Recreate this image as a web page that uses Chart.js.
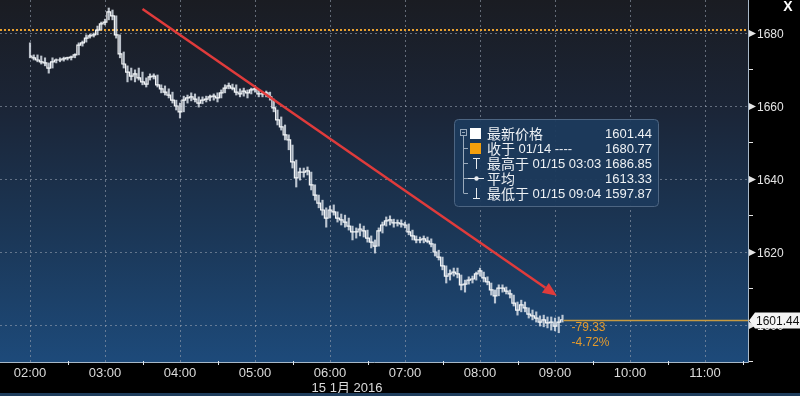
<!DOCTYPE html>
<html>
<head>
<meta charset="utf-8">
<script src="https://cdn.jsdelivr.net/npm/chart.js@4.4.0/dist/chart.umd.min.js"></script>
<style>
  html, body { margin: 0; padding: 0; background: #000; }
  canvas { display: block; }
</style>
</head>
<body>
<canvas id="myChart" width="800" height="396"></canvas>
<script>
// 3-minute bars from 02:00 (minutes since midnight)
const startMinute = 120;
const barStep = 3;

const highs = [
  1677.3, 1674.0, 1674.0, 1673.7, 1673.2, 1671.8, 1673.2, 1672.9, 1673.2, 1673.4,
  1673.4, 1673.7, 1674.3, 1677.3, 1677.8, 1679.5, 1679.7, 1680.0, 1681.9, 1683.0,
  1683.8, 1686.85, 1686.3, 1684.7, 1679.5, 1674.8, 1671.0, 1670.4, 1669.9, 1670.4,
  1669.3, 1667.7, 1668.8, 1668.8, 1668.5, 1665.8, 1665.5, 1664.7, 1663.8, 1661.6,
  1660.8, 1662.7, 1663.0, 1663.6, 1663.3, 1662.5, 1662.5, 1662.7, 1663.0, 1663.3,
  1663.6, 1664.4, 1665.8, 1666.3, 1666.0, 1665.8, 1664.7, 1664.9, 1664.4, 1664.9,
  1665.5, 1664.4, 1663.8, 1664.1, 1663.8, 1661.9, 1658.9, 1657.0, 1654.8, 1652.1,
  1649.3, 1645.2, 1643.0, 1643.0, 1643.3, 1641.9, 1638.4, 1635.6, 1634.2, 1632.1,
  1632.6, 1632.9, 1631.0, 1630.4, 1630.1, 1629.3, 1627.1, 1626.6, 1627.7, 1627.1,
  1626.0, 1624.4, 1623.3, 1626.6, 1628.2, 1629.6, 1629.9, 1629.0, 1628.8, 1628.8,
  1628.2, 1627.7, 1626.0, 1624.4, 1624.1, 1624.4, 1624.1, 1623.6, 1622.2, 1620.5,
  1618.6, 1616.2, 1615.1, 1615.6, 1615.6, 1613.7, 1612.3, 1613.2, 1613.4, 1614.5,
  1615.6, 1614.5, 1613.2, 1611.5, 1609.6, 1611.0, 1611.0, 1610.4, 1609.6, 1608.2,
  1606.3, 1606.8, 1606.3, 1604.7, 1604.1, 1603.6, 1602.5, 1602.7, 1602.2, 1602.2,
  1601.9, 1602.2, 1602.7
];
const lows = [
  1673.2, 1672.6, 1672.1, 1671.5, 1671.0, 1669.0, 1670.4, 1671.8, 1672.1, 1672.3,
  1672.6, 1672.6, 1673.2, 1674.0, 1676.4, 1677.5, 1678.6, 1678.9, 1679.5, 1680.8,
  1682.2, 1683.6, 1683.6, 1678.6, 1673.2, 1670.4, 1666.6, 1667.1, 1666.6, 1667.1,
  1665.8, 1665.2, 1667.1, 1667.4, 1665.2, 1663.6, 1663.0, 1662.2, 1660.8, 1658.9,
  1656.7, 1658.4, 1660.8, 1661.4, 1661.1, 1659.7, 1660.6, 1661.1, 1661.4, 1661.6,
  1661.1, 1662.2, 1663.6, 1664.7, 1664.4, 1663.0, 1662.5, 1662.7, 1662.2, 1663.3,
  1663.8, 1662.5, 1662.5, 1662.5, 1661.6, 1658.4, 1654.8, 1653.4, 1650.7, 1648.0,
  1643.0, 1637.8, 1639.7, 1640.5, 1641.1, 1637.0, 1634.2, 1632.1, 1630.1, 1626.8,
  1629.3, 1630.1, 1628.2, 1627.4, 1626.8, 1626.0, 1623.3, 1623.8, 1624.4, 1624.1,
  1622.7, 1621.1, 1619.7, 1621.6, 1625.2, 1627.1, 1627.4, 1626.8, 1627.1, 1626.8,
  1626.6, 1624.7, 1623.3, 1622.5, 1622.5, 1622.5, 1622.5, 1621.4, 1618.9, 1617.8,
  1615.1, 1611.5, 1612.3, 1613.4, 1612.9, 1609.6, 1609.0, 1611.2, 1611.5, 1612.3,
  1613.4, 1611.8, 1611.0, 1608.2, 1606.0, 1608.0, 1609.0, 1608.5, 1607.4, 1605.2,
  1602.7, 1603.6, 1603.6, 1601.9, 1601.4, 1600.8, 1599.7, 1599.5, 1599.2, 1598.6,
  1598.4, 1597.87, 1600.8
];
const closes = [
  1673.7, 1673.2, 1672.6, 1672.1, 1671.8, 1670.4, 1672.1, 1672.6, 1672.6, 1672.9,
  1673.2, 1673.4, 1674.0, 1676.7, 1677.3, 1678.6, 1679.2, 1679.5, 1680.8, 1682.5,
  1683.0, 1685.8, 1684.7, 1679.5, 1674.3, 1671.5, 1669.3, 1668.2, 1668.8, 1667.7,
  1666.6, 1666.0, 1668.0, 1668.2, 1665.8, 1664.7, 1663.8, 1663.0, 1661.6, 1660.0,
  1658.4, 1661.6, 1662.2, 1662.5, 1661.9, 1660.8, 1661.6, 1661.9, 1662.5, 1662.7,
  1662.2, 1663.6, 1664.9, 1665.5, 1664.9, 1663.8, 1663.3, 1664.1, 1663.6, 1664.4,
  1664.7, 1663.3, 1663.3, 1663.6, 1662.5, 1659.5, 1656.2, 1654.3, 1652.1, 1650.7,
  1644.7, 1640.3, 1641.9, 1641.9, 1642.2, 1638.4, 1635.6, 1633.4, 1631.5, 1629.3,
  1631.5, 1631.0, 1629.3, 1628.8, 1628.2, 1627.1, 1625.5, 1625.5, 1626.3, 1625.8,
  1623.8, 1622.7, 1621.6, 1625.8, 1627.4, 1628.5, 1628.8, 1628.0, 1628.0, 1627.7,
  1627.4, 1625.5, 1624.4, 1623.3, 1623.3, 1623.6, 1623.0, 1622.2, 1620.0, 1618.6,
  1616.2, 1613.4, 1614.0, 1614.5, 1614.0, 1611.0, 1611.2, 1612.3, 1612.6, 1614.0,
  1614.8, 1612.9, 1611.8, 1609.6, 1608.0, 1610.1, 1610.1, 1609.3, 1608.5, 1606.0,
  1604.1, 1605.5, 1604.7, 1603.0, 1602.5, 1601.9, 1600.8, 1601.4, 1600.6, 1600.8,
  1599.7, 1600.8, 1601.44
];
const times = closes.map((c, i) => startMinute + i * barStep);

const xTickLabels = ["02:00", "03:00", "04:00", "05:00", "06:00", "07:00", "08:00", "09:00", "10:00", "11:00"];
const dateLabel = "15 1月 2016";
const yTickLabels = [1600, 1620, 1640, 1660, 1680];
const yMinorTicks = [1590, 1610, 1630, 1650, 1670];

const prevClose = 1680.77;
const lastPrice = 1601.44;
const changeText = ["-79.33", "-4.72%"];

// trend arrow, in (minute, price)
const arrowFrom = { t: 210, p: 1686.6 };
const arrowTo = { t: 541.5, p: 1608.0 };

const legendRows = [
  { icon: "last", label: "最新价格", extra: "", value: "1601.44" },
  { icon: "close", label: "收于", extra: " 01/14 ----", value: "1680.77" },
  { icon: "high", label: "最高于", extra: " 01/15 03:03", value: "1686.85" },
  { icon: "avg", label: "平均", extra: "", value: "1613.33" },
  { icon: "low", label: "最低于", extra: " 01/15 09:04", value: "1597.87" }
];

const NUM_FONT = '"Liberation Sans", Arial, sans-serif';
const CJK_FONT = '"Noto Sans CJK SC", "Noto Sans", sans-serif';

function toMinutes(lbl) {
  const [h, m] = lbl.split(":").map(Number);
  return h * 60 + m;
}

const canvas = document.getElementById("myChart");
const ctx = canvas.getContext("2d");

// ðŸ”¹ background, grid, axes and overlays
const terminalPlugin = {
  id: "terminal",
  beforeDraw(chart) {
    const { ctx, chartArea: a, scales: { x, y } } = chart;
    ctx.save();
    ctx.fillStyle = "#000";
    ctx.fillRect(0, 0, chart.width, chart.height);

    const g = ctx.createLinearGradient(0, a.top, 0, a.bottom);
    g.addColorStop(0, "#1a1c22");
    g.addColorStop(0.3, "#1b2537");
    g.addColorStop(0.65, "#1b3757");
    g.addColorStop(1, "#1d4a7a");
    ctx.fillStyle = g;
    ctx.fillRect(a.left, a.top, a.right - a.left, a.bottom - a.top);

    // dotted grid
    ctx.strokeStyle = "rgba(150,160,175,0.6)";
    ctx.lineWidth = 1;
    ctx.setLineDash([2, 3]);
    xTickLabels.forEach(lbl => {
      const px = Math.round(x.getPixelForValue(toMinutes(lbl))) + 0.5;
      ctx.beginPath();
      ctx.moveTo(px, a.top);
      ctx.lineTo(px, a.bottom);
      ctx.stroke();
    });
    yTickLabels.forEach(v => {
      const py = Math.round(y.getPixelForValue(v)) + 0.5;
      ctx.beginPath();
      ctx.moveTo(a.left, py);
      ctx.lineTo(a.right, py);
      ctx.stroke();
    });

    // previous close
    ctx.strokeStyle = "#e8a030";
    ctx.lineWidth = 2;
    ctx.setLineDash([2, 2]);
    const pc = Math.round(y.getPixelForValue(prevClose));
    ctx.beginPath();
    ctx.moveTo(a.left, pc);
    ctx.lineTo(a.right, pc);
    ctx.stroke();
    ctx.restore();
  },

  afterDatasetsDraw(chart) {
    const { ctx, chartArea: a, scales: { x, y } } = chart;
    ctx.save();

    // last price line
    const lastX = x.getPixelForValue(times[times.length - 1]);
    const lp = Math.round(y.getPixelForValue(lastPrice)) + 0.5;
    ctx.strokeStyle = "#c89a40";
    ctx.lineWidth = 1.5;
    ctx.beginPath();
    ctx.moveTo(lastX + 1, lp);
    ctx.lineTo(a.right, lp);
    ctx.stroke();

    ctx.fillStyle = "#e49a2c";
    ctx.font = "12px " + NUM_FONT;
    ctx.textAlign = "left";
    ctx.textBaseline = "middle";
    ctx.fillText(changeText[0], lastX + 9, lp + 7);
    ctx.fillText(changeText[1], lastX + 9, lp + 22);

    // red trend arrow
    const x0 = x.getPixelForValue(arrowFrom.t), y0 = y.getPixelForValue(arrowFrom.p);
    const x1 = x.getPixelForValue(arrowTo.t), y1 = y.getPixelForValue(arrowTo.p);
    const ang = Math.atan2(y1 - y0, x1 - x0);
    const headLen = 14, headW = 6;
    const bx = x1 - headLen * Math.cos(ang), by = y1 - headLen * Math.sin(ang);
    ctx.strokeStyle = "#e03b3b";
    ctx.fillStyle = "#e03b3b";
    ctx.lineWidth = 2.5;
    ctx.beginPath();
    ctx.moveTo(x0, y0);
    ctx.lineTo(bx, by);
    ctx.stroke();
    ctx.beginPath();
    ctx.moveTo(x1, y1);
    ctx.lineTo(bx + headW * Math.sin(ang), by - headW * Math.cos(ang));
    ctx.lineTo(bx - headW * Math.sin(ang), by + headW * Math.cos(ang));
    ctx.closePath();
    ctx.fill();

    // legend box
    const L = 454, T = 119, W = 204, H = 87;
    ctx.beginPath();
    ctx.roundRect(L + 0.5, T + 0.5, W, H, 4);
    ctx.fillStyle = "rgba(28,58,92,0.95)";
    ctx.fill();
    ctx.strokeStyle = "#4d6582";
    ctx.lineWidth = 1;
    ctx.stroke();

    const rowY = i => T + 14 + i * 15;
    // tree
    ctx.strokeStyle = "#9aaabb";
    ctx.lineWidth = 1;
    ctx.strokeRect(460.5, rowY(0) - 3.5, 6, 6);
    ctx.beginPath();
    ctx.moveTo(462, rowY(0) - 0.5); ctx.lineTo(465, rowY(0) - 0.5);
    ctx.moveTo(463.5, rowY(0) + 3); ctx.lineTo(463.5, rowY(4));
    for (let i = 1; i < 5; i++) {
      ctx.moveTo(463.5, rowY(i) + 0.5);
      ctx.lineTo(468, rowY(i) + 0.5);
    }
    ctx.stroke();

    legendRows.forEach((r, i) => {
      const cy = rowY(i);
      const ix = 476;
      ctx.strokeStyle = "#e8ecf0";
      ctx.fillStyle = "#e8ecf0";
      if (r.icon === "last") {
        ctx.fillStyle = "#ffffff";
        ctx.fillRect(470, cy - 5, 11, 11);
      } else if (r.icon === "close") {
        ctx.fillStyle = "#f5a00c";
        ctx.fillRect(470, cy - 5, 11, 11);
      } else if (r.icon === "high") {
        ctx.beginPath();
        ctx.moveTo(ix - 3, cy - 4.5); ctx.lineTo(ix + 4, cy - 4.5);
        ctx.moveTo(ix + 0.5, cy - 4.5); ctx.lineTo(ix + 0.5, cy + 6);
        ctx.stroke();
      } else if (r.icon === "avg") {
        ctx.beginPath();
        ctx.moveTo(468, cy + 0.5); ctx.lineTo(484, cy + 0.5);
        ctx.stroke();
        ctx.beginPath();
        ctx.arc(ix + 0.5, cy + 0.5, 2.2, 0, Math.PI * 2);
        ctx.fill();
      } else if (r.icon === "low") {
        ctx.beginPath();
        ctx.moveTo(ix + 0.5, cy - 5); ctx.lineTo(ix + 0.5, cy + 5.5);
        ctx.moveTo(ix - 3, cy + 5.5); ctx.lineTo(ix + 4, cy + 5.5);
        ctx.stroke();
      }
      ctx.fillStyle = "#eef1f4";
      ctx.textBaseline = "middle";
      ctx.textAlign = "left";
      ctx.font = "14px " + CJK_FONT;
      ctx.fillText(r.label, 487, cy + 1);
      const lw = ctx.measureText(r.label).width;
      ctx.font = "13px " + NUM_FONT;
      ctx.fillText(r.extra, 487 + lw, cy + 1);
      ctx.textAlign = "right";
      ctx.fillText(r.value, 652, cy + 1);
    });

    // plot edges
    ctx.strokeStyle = "#a8b8c8";
    ctx.lineWidth = 1;
    ctx.beginPath();
    ctx.moveTo(a.right + 0.5, a.top);
    ctx.lineTo(a.right + 0.5, a.bottom + 0.5);
    ctx.lineTo(a.left, a.bottom + 0.5);
    ctx.stroke();

    // right axis
    ctx.fillStyle = "#e4e4e4";
    ctx.strokeStyle = "#e4e4e4";
    ctx.font = "12px " + NUM_FONT;
    ctx.textAlign = "left";
    ctx.textBaseline = "middle";
    yTickLabels.forEach(v => {
      const py = Math.round(y.getPixelForValue(v)) + 0.5;
      ctx.beginPath();
      ctx.moveTo(a.right + 1, py - 3.5);
      ctx.lineTo(a.right + 8, py);
      ctx.lineTo(a.right + 1, py + 3.5);
      ctx.closePath();
      ctx.fill();
      ctx.fillText(String(v), a.right + 9, py + 1);
    });
    yMinorTicks.forEach(v => {
      const py = Math.round(y.getPixelForValue(v)) + 0.5;
      ctx.beginPath();
      ctx.moveTo(a.right + 1, py);
      ctx.lineTo(a.right + 5, py);
      ctx.stroke();
    });

    // last price tag
    ctx.beginPath();
    ctx.moveTo(a.right + 1, lp);
    ctx.lineTo(a.right + 7, lp - 8);
    ctx.lineTo(chart.width, lp - 8);
    ctx.lineTo(chart.width, lp + 8);
    ctx.lineTo(a.right + 7, lp + 8);
    ctx.closePath();
    ctx.fillStyle = "#f4f4f4";
    ctx.fill();
    ctx.fillStyle = "#111";
    ctx.fillText(lastPrice.toFixed(2), a.right + 8, lp + 1);

    // bottom axis
    ctx.fillStyle = "#dcdcdc";
    ctx.strokeStyle = "#dfe4ea";
    ctx.font = "13px " + NUM_FONT;
    ctx.textAlign = "center";
    xTickLabels.forEach(lbl => {
      const m = toMinutes(lbl);
      const px = x.getPixelForValue(m);
      ctx.fillText(lbl, px, a.bottom + 11);
      const hx = Math.round(x.getPixelForValue(m + 30)) + 0.5;
      if (hx < a.right) {
        ctx.beginPath();
        ctx.moveTo(hx, a.bottom - 1);
        ctx.lineTo(hx, a.bottom + 3);
        ctx.stroke();
      }
    });
    ctx.font = "13px " + NUM_FONT + ", " + CJK_FONT;
    ctx.fillText(dateLabel, x.getPixelForValue(toMinutes("06:00")) + 17, a.bottom + 26);

    // bottom strip
    ctx.fillStyle = "#1f3d5c";
    ctx.fillRect(0, chart.height - 3, chart.width, 3);

    // close button
    ctx.fillStyle = "#ffffff";
    ctx.font = "bold 14px " + NUM_FONT;
    ctx.textAlign = "center";
    ctx.fillText("X", 788, 7);

    ctx.restore();
  }
};

new Chart(ctx, {
  type: "line",
  data: {
    datasets: [
      {
        type: "bar",
        label: "range",
        data: times.map((t, i) => ({ x: t, y: [lows[i], highs[i]] })),
        backgroundColor: "rgba(215,222,230,0.85)",
        borderWidth: 0,
        barThickness: 1.5,
        order: 2
      },
      {
        type: "line",
        label: "最新价格",
        data: times.map((t, i) => ({ x: t, y: closes[i] })),
        borderColor: "#f4f6f8",
        borderWidth: 1.2,
        stepped: "middle",
        pointRadius: 0,
        fill: false,
        order: 1
      }
    ]
  },
  options: {
    responsive: false,
    animation: false,
    layout: { padding: { left: 0, top: 0, right: 52, bottom: 34 } },
    scales: {
      x: { type: "linear", min: 96, max: 694.4, display: false, offset: false },
      y: { type: "linear", min: 1589.86, max: 1689.04, display: false }
    },
    plugins: {
      legend: { display: false },
      tooltip: { enabled: false }
    }
  },
  plugins: [terminalPlugin]
});
</script>
</body>
</html>
